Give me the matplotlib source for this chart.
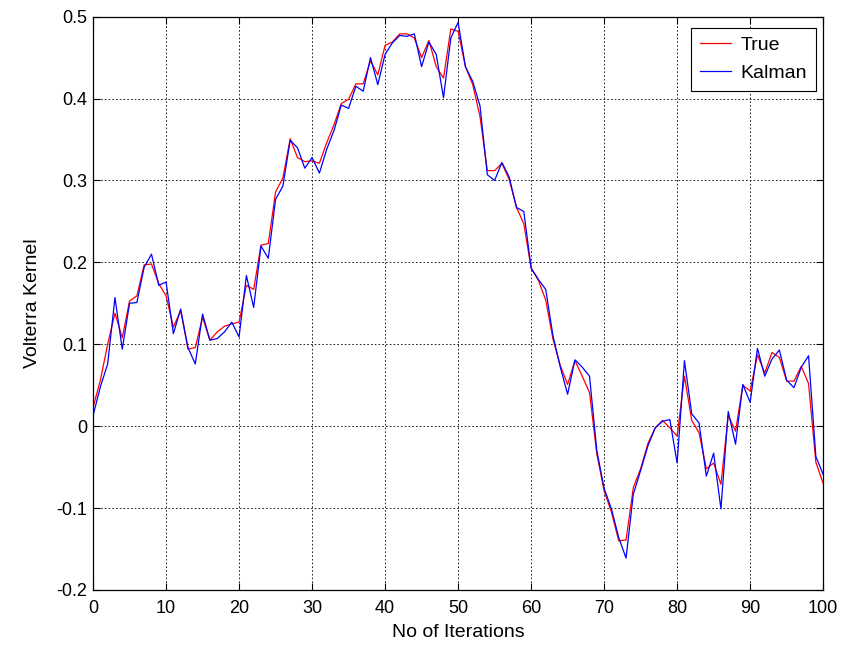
import numpy as np
import matplotlib
matplotlib.use('Agg')
import matplotlib.pyplot as plt

#iteration index
iters = np.arange(0, 101)

#true Volterra kernel value at each iteration
true_vals = [0.023, 0.056, 0.100, 0.138, 0.108, 0.153, 0.159, 0.197, 0.198, 0.174,
             0.159, 0.121, 0.141, 0.094, 0.096, 0.133, 0.105, 0.115, 0.122, 0.125,
             0.127, 0.172, 0.167, 0.221, 0.223, 0.286, 0.303, 0.351, 0.328, 0.323,
             0.324, 0.321, 0.346, 0.368, 0.394, 0.399, 0.418, 0.418, 0.446, 0.429,
             0.465, 0.469, 0.479, 0.479, 0.474, 0.450, 0.471, 0.439, 0.425, 0.485,
             0.482, 0.439, 0.417, 0.378, 0.312, 0.312, 0.321, 0.301, 0.267, 0.247,
             0.193, 0.178, 0.154, 0.106, 0.074, 0.051, 0.080, 0.061, 0.041, -0.034,
             -0.079, -0.105, -0.140, -0.139, -0.075, -0.052, -0.021, -0.002, 0.007, -0.002,
             -0.012, 0.061, 0.007, -0.008, -0.052, -0.045, -0.071, 0.013, -0.006, 0.050,
             0.043, 0.087, 0.065, 0.090, 0.084, 0.055, 0.055, 0.073, 0.052, -0.044,
             -0.070]

#Kalman filter estimate
kalman_vals = [0.013, 0.048, 0.076, 0.157, 0.094, 0.150, 0.151, 0.194, 0.210, 0.172,
               0.176, 0.113, 0.143, 0.096, 0.076, 0.137, 0.105, 0.107, 0.115, 0.127,
               0.109, 0.184, 0.145, 0.220, 0.205, 0.277, 0.293, 0.349, 0.340, 0.315,
               0.328, 0.309, 0.338, 0.361, 0.392, 0.388, 0.415, 0.409, 0.450, 0.417,
               0.454, 0.468, 0.477, 0.476, 0.479, 0.439, 0.469, 0.454, 0.401, 0.474,
               0.493, 0.439, 0.421, 0.391, 0.307, 0.300, 0.322, 0.304, 0.267, 0.262,
               0.193, 0.179, 0.167, 0.110, 0.072, 0.039, 0.081, 0.072, 0.061, -0.030,
               -0.076, -0.101, -0.136, -0.161, -0.083, -0.054, -0.024, -0.002, 0.006, 0.008,
               -0.045, 0.080, 0.015, 0.004, -0.061, -0.033, -0.101, 0.018, -0.022, 0.051,
               0.029, 0.095, 0.061, 0.082, 0.093, 0.056, 0.047, 0.072, 0.086, -0.037,
               -0.059]

x_ticks = [0, 10, 20, 30, 40, 50, 60, 70, 80, 90, 100]
y_ticks = [-0.2, -0.1, 0, 0.1, 0.2, 0.3, 0.4, 0.5]
y_tick_labels = ['-0.2', '-0.1', '0', '0.1', '0.2', '0.3', '0.4', '0.5']

plt.rcParams['font.family'] = ['Liberation Sans', 'DejaVu Sans']

fig = plt.figure(figsize=(8.46, 6.53), dpi=100)
ax = fig.add_axes([0.110, 0.0965, 0.863, 0.878])

ax.plot(iters, true_vals, color='#ff0000', linewidth=0.9, label='True')
ax.plot(iters, kalman_vals, color='#0000ff', linewidth=0.9, label='Kalman')

ax.set_xlim(0, 100)
ax.set_ylim(-0.2, 0.5)
ax.set_xticks(x_ticks)
ax.set_yticks(y_ticks)
ax.set_yticklabels(y_tick_labels)

#MATLAB style: dotted grid, inward ticks on every side
ax.grid(True, color='black', linestyle=(0, (2, 2.5)), linewidth=0.6)
ax.tick_params(direction='in', top=True, right=True, length=5, width=0.8,
               labelsize=13)
ax.tick_params(axis='x', pad=7)
ax.tick_params(axis='y', pad=4)
for s in ax.spines.values():
    s.set_linewidth(0.9)

ax.set_xlabel('No of Iterations', fontsize=14, labelpad=5)
ax.set_ylabel('Volterra Kernel', fontsize=14, labelpad=11)

leg = ax.legend(loc='upper right', bbox_to_anchor=(0.990, 0.981), borderaxespad=0,
                fontsize=14, fancybox=False, framealpha=1, edgecolor='black',
                handlelength=1.6, handletextpad=0.5, labelspacing=0.55,
                borderpad=0.45)
leg.get_frame().set_linewidth(0.8)

fig.savefig('out.png', dpi=100)
